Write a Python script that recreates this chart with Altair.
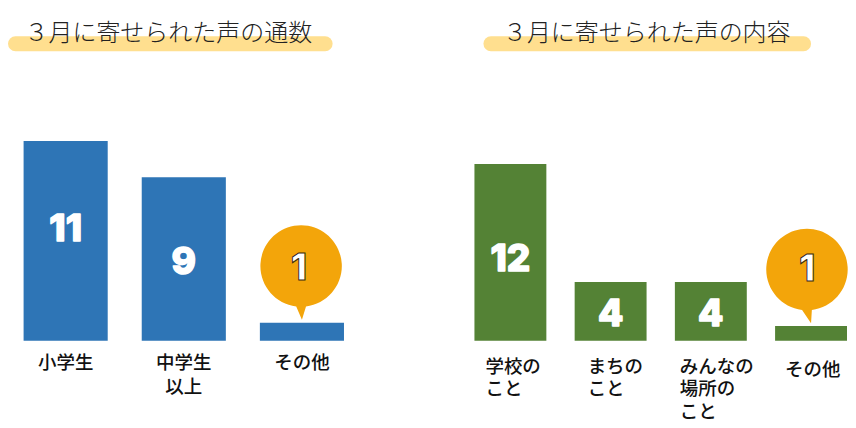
import altair as alt
import pandas as pd

left_title = "３月に寄せられた声の通数"
right_title = "３月に寄せられた声の内容"
left_cats = ["小学生", "中学生\n以上", "その他"]
left_vals = [11, 9, 1]
right_cats = ["学校の\nこと", "まちの\nこと", "みんなの\n場所の\nこと", "その他"]
right_vals = [12, 4, 4, 1]

JP = "Noto Sans CJK JP"
NUM = "Inter"
BUBBLE_L = "M-0.14,-0.397 A1,1 0 1 1 0.10,-0.397 L0,-0.07 Z"
BUBBLE_R = "M-0.22,-0.397 A1,1 0 1 1 0.02,-0.397 L0,-0.07 Z"


def panel(title, cats, vals, color, width, xscale, ydomain, title_x, bar_dy, label_specs, line_h, one_dy, one_dx,
          hl_x, bubble):
    df = pd.DataFrame({"c": cats, "v": vals})
    x = alt.X("c:N", axis=None, scale=alt.Scale(domain=cats, **xscale))
    y = alt.Y("v:Q", axis=None, scale=alt.Scale(domain=[0, ydomain], range=[333, 0]))
    base = alt.Chart(df)
    layers = [
        alt.Chart(df.head(1)).mark_rule(color="#FFDF8F", strokeWidth=15, strokeCap="round").encode(
            x=alt.value(hl_x[0]), x2=alt.value(hl_x[1]), y=alt.value(35.5)),
        alt.Chart(df.head(1)).transform_calculate(t=f"'{title}'").mark_text(
            font=JP, fontSize=24, fontWeight=300, color="#222222", align="left", baseline="middle"
        ).encode(x=alt.value(title_x), y=alt.value(25.5), text="t:N"),
        base.mark_bar(color=color).encode(x=x, y=y),
    ]
    small = base.transform_filter("datum.v == 1")
    layers.append(small.mark_point(shape=bubble, filled=True, opacity=1, size=6650, color="#F3A50A",
                                   strokeWidth=0).encode(x=x, y=y))
    layers.append(small.mark_text(font=NUM, fontSize=37, fontWeight=800, color="white", stroke="#3a2a10",
                                  strokeWidth=1, dy=one_dy, dx=one_dx).encode(x=x, y=y, text="v:Q"))
    for cat, dy in bar_dy:
        b = base.transform_filter(alt.datum.c == cat).transform_calculate(m="datum.v / 2")
        layers.append(b.mark_text(font=NUM, fontSize=37, fontWeight=800, color="white", stroke="white",
                                  strokeWidth=1.5, strokeJoin="round", dy=dy).encode(
            x=x, y=alt.Y("m:Q", axis=None, scale=alt.Scale(domain=[0, ydomain], range=[333, 0])), text="v:Q"))
    for cat, align, dx, dy in label_specs:
        layers.append(base.transform_filter(alt.datum.c == cat).transform_calculate(z="0").mark_text(
            font=JP, fontSize=18.5, fontWeight=500, color="#111111", baseline="top", align=align, dx=dx, dy=dy,
            lineBreak="\n", lineHeight=line_h
        ).encode(x=x, y=alt.Y("z:Q", axis=None, scale=alt.Scale(domain=[0, ydomain], range=[333, 0])), text="c:N"))
    return alt.layer(*layers).properties(width=width, height=410)


left = panel(left_title, left_cats, left_vals, "#2E75B6", 352,
             dict(paddingInner=0.288, paddingOuter=0.132), 18.3, 16.5,
             [("小学生", -11), ("中学生\n以上", 4)],
             [("小学生", "center", 0, 13), ("中学生\n以上", "center", 0, 13), ("その他", "center", 0, 13)],
             24, -54, -3, [7.5, 317.5], BUBBLE_L)

right = panel(right_title, right_cats, right_vals, "#548235", 373,
              dict(paddingInner=0.2824, paddingOuter=0), 22.58, 28.5,
              [("学校の\nこと", 7.5), ("まちの\nこと", 3.5), ("みんなの\n場所の\nこと", 3.5)],
              [("学校の\nこと", "left", -25, 17), ("まちの\nこと", "left", -23, 17),
               ("みんなの\n場所の\nこと", "left", -31, 17), ("その他", "left", -26, 20)],
              22.5, -56, -4, [16.5, 329.5], BUBBLE_R)

chart = alt.hconcat(left, right, spacing=115, bounds="flush").properties(
    padding=0, background="white").configure_view(stroke=None)

chart.save("out.html", embed_options={"renderer": "svg", "actions": False})
